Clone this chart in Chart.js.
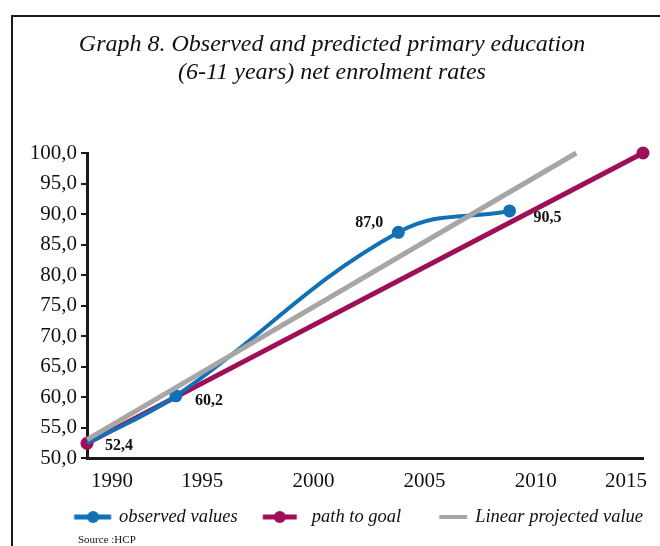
<!DOCTYPE html>
<html>
<head>
<meta charset="utf-8">
<script src="https://cdn.jsdelivr.net/npm/chart.js@4.4.1/dist/chart.umd.min.js"></script>
<style>
  html, body { margin: 0; padding: 0; background: #fff; }
  #wrap { position: relative; width: 660px; height: 546px; overflow: hidden; }
  #frame { position: absolute; left: 11px; top: 15px; width: 700px; height: 600px;
           border-left: 2px solid #1a1a1a; border-top: 2px solid #1a1a1a; }
  #chart { position: absolute; left: 0; top: 0; }
  #source { position: absolute; left: 78px; top: 533px; color: #111;
            font: 11px 'Liberation Serif', 'Times New Roman', serif; }
</style>
</head>
<body>
<div id="wrap">
  <div id="frame"></div>
  <canvas id="chart" width="660" height="546"></canvas>
  <div id="source">Source :HCP</div>
</div>
<script>
// Net enrolment rate, primary education (6-11 years), in %
const observedYears  = [1990, 1994, 2004, 2009];
const observedValues = [52.4, 60.2, 87.0, 90.5];

const goalYears  = [1990, 2015];
const goalValues = [52.4, 100.0];

const projectedYears  = [1990, 2012];
const projectedValues = [53.0, 100.0];

const yearTicks = [1990, 1995, 2000, 2005, 2010, 2015];
const rateTicks = [50, 55, 60, 65, 70, 75, 80, 85, 90, 95, 100];

const seriesNames = ['observed values', 'path to goal', 'Linear projected value'];
const titleLines = ['Graph 8. Observed and predicted primary education',
                    '(6-11 years) net enrolment rates'];

// ---- styling ----
const SERIF = "'Liberation Serif', 'Times New Roman', serif";
const INK = '#111111';
const BLUE = '#1271b6';
const PLUM = '#9e0f58';
const GREY = '#a6a6a6';

const LEGEND_FONT = 18.5;
const LEGEND_BOX = 64.75;

// pixel offsets of the value labels from their points
const labelOffsets = [[32, 2], [33, 5], [-29, -9], [38, 7]];

const fmt = v => Number(v).toFixed(1).replace('.', ',');
const pairs = (xs, ys) => xs.map((x, i) => ({ x, y: ys[i] }));

// Legend keys: a short line, optionally with a dot, placed relative to the label text
function legendKey(color, lw, from, to, dot, r) {
  const c = -(LEGEND_FONT / 2 + LEGEND_BOX / 2);
  const half = Math.ceil(Math.max(Math.abs(from - c), Math.abs(to - c)) + r + 2);
  const cv = document.createElement('canvas');
  cv.width = half * 2;
  cv.height = Math.ceil(2 * Math.max(r, lw) + 4);
  const g = cv.getContext('2d');
  const cy = cv.height / 2;
  g.strokeStyle = color;
  g.lineWidth = lw;
  g.beginPath();
  g.moveTo(half + from - c, cy);
  g.lineTo(half + to - c, cy);
  g.stroke();
  if (dot !== null) {
    g.fillStyle = color;
    g.beginPath();
    g.arc(half + dot - c, cy, r, 0, Math.PI * 2);
    g.fill();
  }
  return cv;
}
const legendKeys = [
  legendKey(BLUE, 5, -45, -8, -26, 6),
  legendKey(PLUM, 5, -49, -15, -32, 6),
  legendKey(GREY, 4, -36, -8, null, 0)
];

// Value labels next to the observed points
const valueLabels = {
  id: 'valueLabels',
  afterDatasetsDraw(chart) {
    const meta = chart.getDatasetMeta(0);
    const ctx = chart.ctx;
    ctx.save();
    ctx.font = 'bold 16px ' + SERIF;
    ctx.fillStyle = INK;
    ctx.textAlign = 'center';
    ctx.textBaseline = 'middle';
    meta.data.forEach((pt, i) => {
      const [dx, dy] = labelOffsets[i];
      ctx.fillText(fmt(observedValues[i]), pt.x + dx, pt.y + dy);
    });
    ctx.restore();
  }
};

new Chart(document.getElementById('chart'), {
  type: 'line',
  data: {
    datasets: [
      {
        label: seriesNames[0],
        data: pairs(observedYears, observedValues),
        borderColor: BLUE,
        backgroundColor: BLUE,
        borderWidth: 4,
        tension: 0.4,
        pointRadius: [0, 6.5, 6.5, 6.5],
        pointHoverRadius: 6.5,
        pointBorderWidth: 0,
        clip: false,
        order: 2
      },
      {
        label: seriesNames[1],
        data: pairs(goalYears, goalValues),
        borderColor: PLUM,
        backgroundColor: PLUM,
        borderWidth: 5,
        tension: 0,
        pointRadius: 6.5,
        pointBorderWidth: 0,
        clip: false,
        order: 3
      },
      {
        label: seriesNames[2],
        data: pairs(projectedYears, projectedValues),
        borderColor: GREY,
        backgroundColor: GREY,
        borderWidth: 5,
        tension: 0,
        pointRadius: 0,
        clip: false,
        order: 1
      }
    ]
  },
  options: {
    responsive: false,
    animation: false,
    devicePixelRatio: 1,
    layout: { padding: { left: 21, right: 17, top: 0, bottom: 9.75 } },
    scales: {
      x: {
        type: 'linear',
        min: yearTicks[0],
        max: yearTicks[yearTicks.length - 1],
        afterBuildTicks(scale) { scale.ticks = yearTicks.map(v => ({ value: v })); },
        ticks: {
          callback: v => String(v),
          align: 'inner',
          labelOffset: 4,
          padding: 3,
          maxRotation: 0,
          autoSkip: false,
          color: INK,
          font: { family: SERIF, size: 21 }
        },
        grid: { display: false },
        border: { display: true, color: '#1a1a1a', width: 3 },
        afterFit(scale) { scale.height = 49.75; }
      },
      y: {
        type: 'linear',
        min: rateTicks[0],
        max: rateTicks[rateTicks.length - 1],
        afterBuildTicks(scale) { scale.ticks = rateTicks.map(v => ({ value: v })); },
        ticks: {
          callback: v => fmt(v),
          padding: 4,
          color: INK,
          font: { family: SERIF, size: 21 }
        },
        grid: { drawOnChartArea: false, drawTicks: true, tickLength: 6, color: '#1a1a1a', lineWidth: 2 },
        border: { display: true, color: '#1a1a1a', width: 3 },
        afterFit(scale) { scale.width = 66; }
      }
    },
    plugins: {
      title: {
        display: true,
        text: titleLines,
        color: INK,
        font: { family: SERIF, size: 24, style: 'italic', weight: 'normal', lineHeight: '28px' },
        padding: { top: 31, bottom: 66 }
      },
      legend: {
        position: 'bottom',
        align: 'end',
        labels: {
          usePointStyle: true,
          pointStyleWidth: LEGEND_BOX,
          boxHeight: LEGEND_FONT,
          padding: 0,
          color: INK,
          font: { family: SERIF, size: LEGEND_FONT, style: 'italic' },
          sort: (a, b) => a.datasetIndex - b.datasetIndex,
          generateLabels(chart) {
            const items = Chart.defaults.plugins.legend.labels.generateLabels(chart);
            items.forEach(it => { it.pointStyle = legendKeys[it.datasetIndex]; });
            return items;
          }
        }
      },
      tooltip: { enabled: false }
    }
  },
  plugins: [valueLabels]
});
</script>
</body>
</html>
